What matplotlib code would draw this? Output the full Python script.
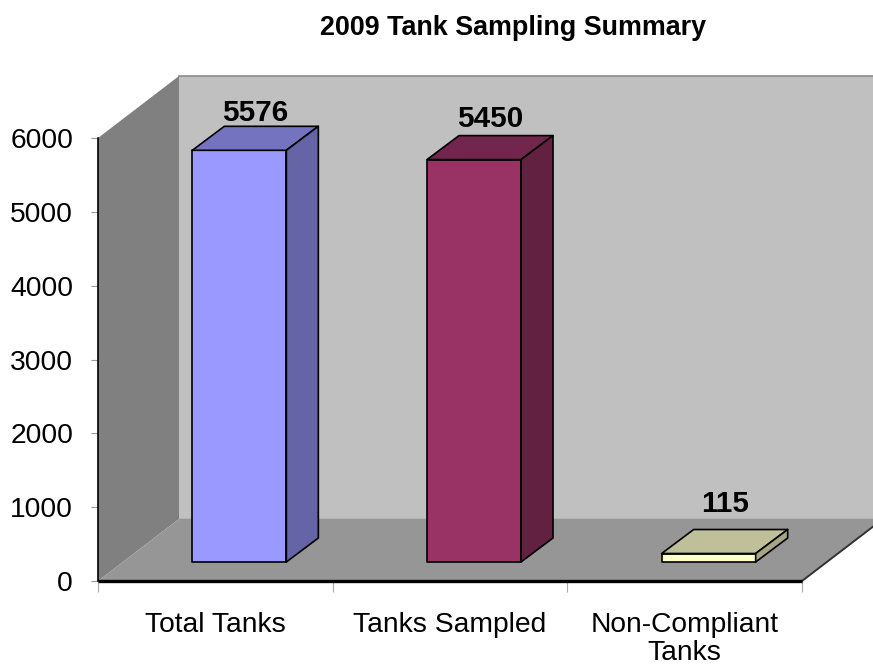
import matplotlib
matplotlib.use("Agg")
import matplotlib.pyplot as plt
from matplotlib.patches import Polygon
from matplotlib.ticker import FixedLocator, FixedFormatter, NullFormatter

plt.rcParams['font.family'] = ['Liberation Sans', 'DejaVu Sans']

title = "2009 Tank Sampling Summary"
categories = ["Total Tanks", "Tanks Sampled", "Non-Compliant\nTanks"]
values = [5576, 5450, 115]
y_ticks = [0, 1000, 2000, 3000, 4000, 5000, 6000]
front_colors = ["#9999FF", "#993366", "#FFFFCC"]
top_colors = ["#7373BF", "#73264D", "#BFBF99"]
side_colors = ["#6464A6", "#632142", "#A6A685"]

W, H = 873, 667
dpi = 100
fig = plt.figure(figsize=(W / dpi, H / dpi), dpi=dpi, facecolor="white")
L, R, B, T = 98, 802, 581, 138
ax = fig.add_axes([L / W, 1 - B / H, (R - L) / W, (B - T) / H])
ax.set_xlim(0, len(categories))
ax.set_ylim(0, 6000)
ax.patch.set_visible(False)
for s in ax.spines.values():
    s.set_visible(False)

ux = len(categories) / (R - L)   # data units per pixel
uy = 6000 / (B - T)
dx, dy = 81 * ux, 62 * uy        # full depth of the chart box
ymax = 6000
label_gaps = [-1, 3, 12]         # pixels between a bar's top and its label


def poly(pts, fc, ec="none", lw=0, z=1):
    ax.add_patch(Polygon(pts, closed=True, facecolor=fc, edgecolor=ec,
                         linewidth=lw, zorder=z, clip_on=False, joinstyle="round"))


# back wall
poly([(dx, dy), (3 + dx + .3, dy), (3 + dx + .3, ymax + dy), (dx, ymax + dy)], "#C0C0C0", z=1)
ax.plot([dx, 3 + dx + .3], [ymax + dy] * 2, color="#8C8C8C", lw=1.2, zorder=2, clip_on=False)
ax.plot([dx, 3 + dx + .3], [dy] * 2, color="#7E7E7E", lw=1.0, zorder=2, clip_on=False)
# left wall
poly([(0, 0), (dx, dy), (dx, ymax + dy), (0, ymax)], "#808080", z=2)
# floor
poly([(0, 0), (3, 0), (3 + dx, dy), (dx, dy)], "#969696", z=2)
# floor right edge and front edge
ax.plot([3, 3 + dx], [0, dy], color="#333333", lw=1.4, zorder=3, clip_on=False)
ax.plot([0, 3], [0, 0], color="black", lw=2.4, zorder=4, clip_on=False, solid_capstyle="butt")
ax.plot([0, 0], [0, ymax], color="black", lw=1.2, zorder=4, clip_on=False)

# bars
bar_w = 94 * ux
ox, oy = 24 * ux, 19 * uy        # bar front plane offset in the box
bx, by = 32 * ux, 24 * uy        # bar depth
for i, (v, fc, tc, sc) in enumerate(zip(values, front_colors, top_colors, side_colors)):
    x0 = i + .5 - bar_w / 2 + ox
    x1 = x0 + bar_w
    y0, y1 = oy, oy + v
    kw = dict(ec="black", lw=1.2, z=5)
    poly([(x0, y0), (x1, y0), (x1, y1), (x0, y1)], fc, **kw)
    poly([(x0, y1), (x1, y1), (x1 + bx, y1 + by), (x0 + bx, y1 + by)], tc, **kw)
    poly([(x1, y0), (x1 + bx, y0 + by), (x1 + bx, y1 + by), (x1, y1)], sc, **kw)
    ax.text((x0 + x1) / 2 + bx / 2, y1 + by + label_gaps[i] * uy, str(v), ha="center", va="bottom",
            fontsize=21.3, fontweight="bold", color="black", zorder=6, clip_on=False)

# axes ticks and labels
ax.yaxis.set_major_locator(FixedLocator(y_ticks))
ax.yaxis.set_major_formatter(FixedFormatter([str(t) for t in y_ticks]))
ax.tick_params(axis="y", length=5, width=0.8, color="#999999", labelsize=20.3, pad=13)
ax.set_xticks(range(len(categories) + 1))
ax.xaxis.set_major_formatter(NullFormatter())
ax.tick_params(axis="x", length=8, width=0.8, color="#AAAAAA")
ax.set_xticks([i + .5 for i in range(len(categories))], minor=True)
ax.set_xticklabels(categories, minor=True, fontsize=20.3, linespacing=1.1)
ax.tick_params(axis="x", which="minor", length=0, pad=22)

fig.text(513 / W, 1 - 28 / H, title, ha="center", va="center", fontsize=19.4, fontweight="bold")

fig.savefig("out.png", dpi=dpi, facecolor="white")
